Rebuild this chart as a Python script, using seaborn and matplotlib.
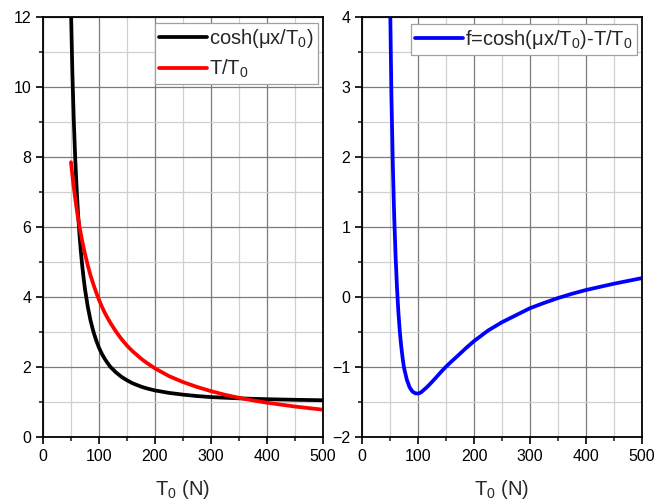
import matplotlib
matplotlib.use("Agg")
import matplotlib.pyplot as plt
import seaborn as sns
import pandas as pd
from matplotlib.ticker import MultipleLocator

# values
t0 = [50, 52.5, 55, 57.5, 60, 62.5, 65, 67.5, 70, 72.5, 75, 80, 85, 90, 95,
      100, 105, 110, 115, 120, 130, 140, 150, 160, 175, 185, 200, 225, 250,
      275, 300, 325, 350, 375, 400, 450, 500]
cosh_vals = [12.2, 10.36, 9.03, 7.97, 7.11, 6.40, 5.81, 5.32, 4.90, 4.54, 4.22,
             3.72, 3.32, 3.01, 2.76, 2.55, 2.38, 2.24, 2.12, 2.01, 1.85, 1.72,
             1.62, 1.535, 1.44, 1.39, 1.33, 1.26, 1.21, 1.17, 1.14, 1.122,
             1.105, 1.091, 1.08, 1.063, 1.05]
ratio_vals = [7.85, 7.47, 7.13, 6.82, 6.53, 6.27, 6.03, 5.81, 5.60, 5.41, 5.23,
              4.90, 4.61, 4.36, 4.13, 3.92, 3.73, 3.56, 3.41, 3.27, 3.02, 2.80,
              2.61, 2.45, 2.24, 2.12, 1.96, 1.74, 1.57, 1.43, 1.31, 1.206,
              1.12, 1.045, 0.98, 0.87, 0.78]
f_vals = [4.35, 2.89, 1.90, 1.15, 0.58, 0.13, -0.22, -0.49, -0.70, -0.87,
          -1.01, -1.18, -1.29, -1.35, -1.375, -1.38, -1.365, -1.33, -1.295,
          -1.255, -1.17, -1.08, -0.995, -0.92, -0.81, -0.735, -0.63, -0.48,
          -0.36, -0.26, -0.16, -0.085, -0.015, 0.046, 0.10, 0.19, 0.27]

df = pd.DataFrame({"T0": t0, "cosh": cosh_vals, "ratio": ratio_vals, "f": f_vals})

sns.set_style("ticks")
plt.rcParams["font.family"] = ["Liberation Sans", "DejaVu Sans"]
plt.rcParams["mathtext.fontset"] = "custom"
plt.rcParams["mathtext.rm"] = "Liberation Sans"
plt.rcParams["mathtext.it"] = "Liberation Sans:italic"

fig = plt.figure(figsize=(6.56, 5.01), dpi=100)
ax1 = fig.add_axes([43 / 656, 64 / 501, 280 / 656, 420 / 501])
ax2 = fig.add_axes([362 / 656, 64 / 501, 280 / 656, 420 / 501])

lw = 2.7
sns.lineplot(data=df, x="T0", y="cosh", ax=ax1, color="black", lw=lw,
             label="cosh(μx/T$_0$)")
sns.lineplot(data=df, x="T0", y="ratio", ax=ax1, color="red", lw=lw,
             label="T/T$_0$")
sns.lineplot(data=df, x="T0", y="f", ax=ax2, color="blue", lw=lw,
             label="f=cosh(μx/T$_0$)-T/T$_0$")

def style_axes(ax, ylim, ymajor, yminor):
    ax.set_xlim(0, 500)
    ax.set_ylim(*ylim)
    ax.xaxis.set_major_locator(MultipleLocator(100))
    ax.xaxis.set_minor_locator(MultipleLocator(50))
    ax.yaxis.set_major_locator(MultipleLocator(ymajor))
    ax.yaxis.set_minor_locator(MultipleLocator(yminor))
    ax.grid(which="major", color="#7a7a7a", lw=0.9)
    ax.grid(which="minor", color="#d0d0d0", lw=0.9)
    ax.set_axisbelow(True)
    for s in ax.spines.values():
        s.set_visible(True)
        s.set_linewidth(1.3)
        s.set_color("black")
    ax.tick_params(which="major", direction="out", length=5, width=1.2,
                   labelsize=11.5, colors="black")
    ax.tick_params(which="minor", direction="out", length=3, width=1.2)
    ax.set_xlabel("T$_0$ (N)", fontsize=14.5, labelpad=10)
    ax.set_ylabel("")

style_axes(ax1, (0, 12), 2, 1)
ax1.set_yticks(range(0, 13, 2))
ax1.set_yticklabels([str(v) for v in range(0, 13, 2)])
style_axes(ax2, (-2, 4), 1, 0.5)
ax2.set_yticks(range(-2, 5))
ax2.set_yticklabels([str(v).replace("-", "\u2212") for v in range(-2, 5)])

for ax, anchor in [(ax1, (0.982, 0.986)), (ax2, (0.982, 0.983))]:
    leg = ax.legend(loc="upper right", bbox_to_anchor=anchor, fontsize=14.5,
                    fancybox=False, framealpha=1, edgecolor="#a0a0a0",
                    handlelength=2.4, handletextpad=0.1, borderpad=0.2,
                    labelspacing=0.4, borderaxespad=0)
    leg.get_frame().set_linewidth(0.9)

fig.savefig("out.png", dpi=100)
